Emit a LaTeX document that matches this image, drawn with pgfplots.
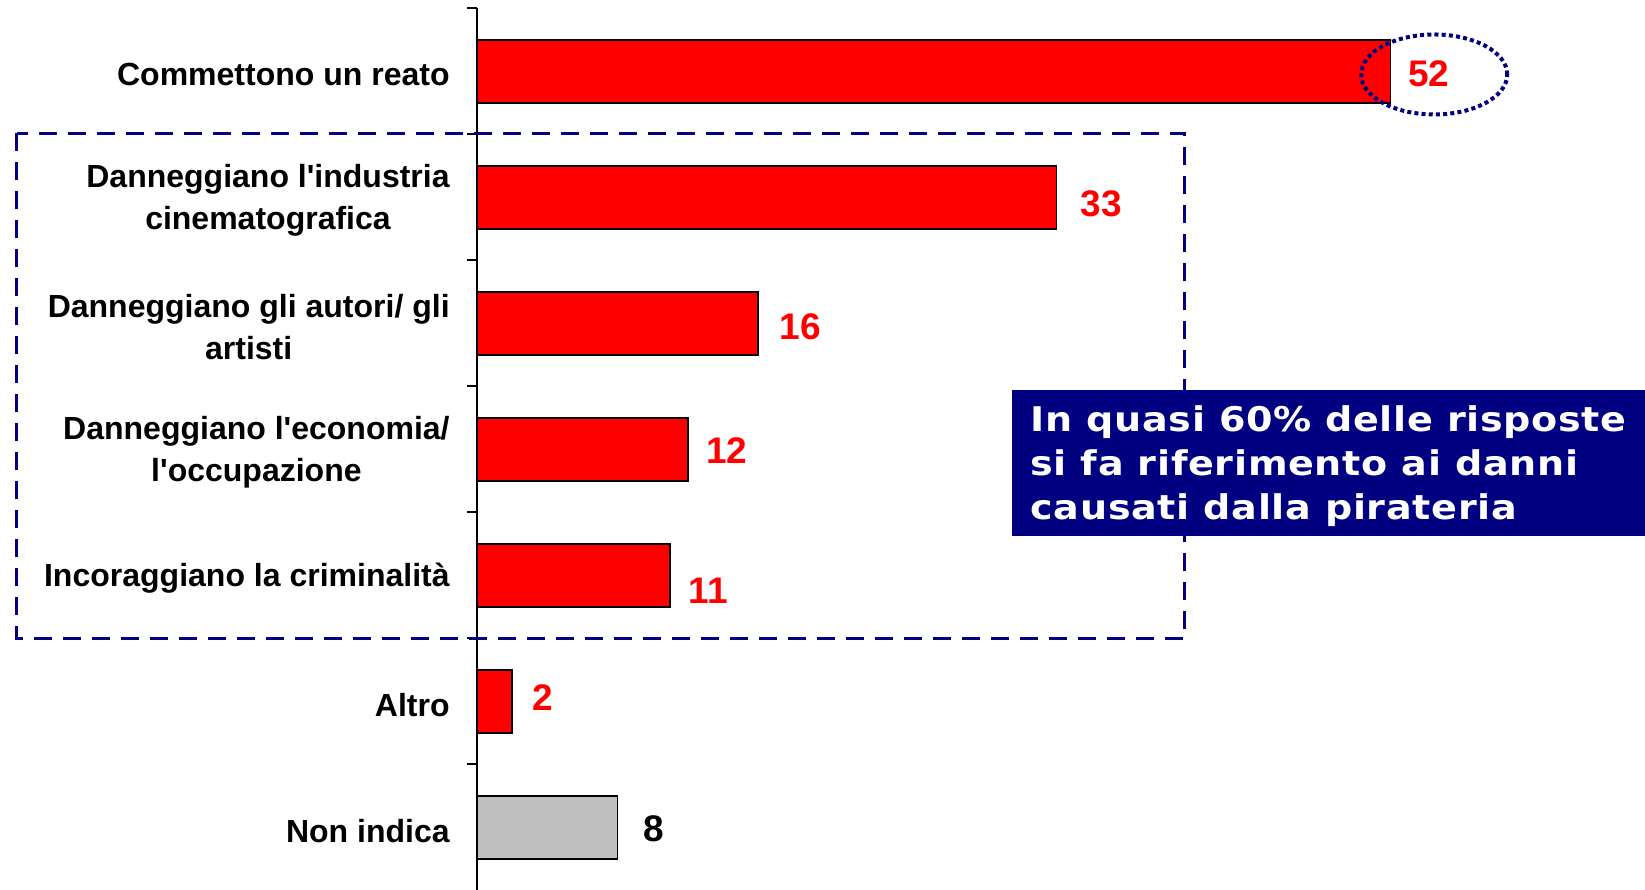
\documentclass[border=0pt]{standalone}
\usepackage{fontspec}
\setmainfont{Liberation Sans}[Ligatures=TeXOff]
\newfontfamily\boxfont{DejaVu Sans}[FakeStretch=1.12, LetterSpace=2]
\usepackage{pgfplots}
\pgfplotsset{compat=1.18}
\definecolor{barred}{RGB}{255,0,0}
\definecolor{bargray}{RGB}{192,192,192}
\definecolor{navy}{RGB}{0,0,128}

\begin{document}
\begin{tikzpicture}
\begin{axis}[
  scale only axis,
  width=579.5pt, height=441pt,
  xmin=0, xmax=66, ymin=-0.5, ymax=6.5,
  y dir=reverse,
  axis x line=none,
  axis y line=left,
  y axis line style={-, line width=1pt},
  xbar, bar width=31.5pt, bar shift=0pt,
  ytick={0,...,6},
  yticklabels={Commettono un reato,
    {Danneggiano l'industria\\cinematografica},
    {Danneggiano gli autori/ gli\\artisti},
    {Danneggiano l'economia/\\l'occupazione},
    Incoraggiano la criminalità, Altro, Non indica},
  yticklabel style={align=center, anchor=east, inner sep=0pt,
    xshift=-13.5pt, yshift=-1.6pt,
    font=\bfseries\fontsize{16}{21}\selectfont},
  major tick length=0pt,
  minor ytick={-0.5,0.5,...,5.5},
  minor tick length=5pt,
  tick align=outside,
  minor tick style={line width=1pt, black},
  clip=false,
]
\addplot[fill=barred, draw=black, line width=0.8pt] coordinates {
  (52,0) (33,1) (16,2) (12,3) (11,4) (2,5)};
\addplot[fill=bargray, draw=black, line width=0.8pt] coordinates {(8,6)};

% value labels
\begin{scope}[every node/.style={anchor=west, inner sep=0pt,
    font=\bfseries\fontsize{18.5}{20}\selectfont, text=barred}]
\node[xshift=8.8pt, yshift=-1.2pt] at (axis cs:52,0) {52};
\node[xshift=11.8pt, yshift=-3pt] at (axis cs:33,1) {33};
\node[xshift=10.5pt, yshift=-1.5pt] at (axis cs:16,2) {16};
\node[xshift=9.1pt, yshift=-0.8pt] at (axis cs:12,3) {12};
\node[xshift=9pt, yshift=-7.6pt] at (axis cs:11,4) {11};
\node[xshift=9.9pt, yshift=1.9pt] at (axis cs:2,5) {2};
\node[xshift=12.7pt, yshift=-0.7pt, text=black] at (axis cs:8,6) {8};
\end{scope}

% annotations
\draw[navy, line width=1.5pt, dash pattern=on 9pt off 5.5pt]
  (axis cs:-26.2,0.49) rectangle (axis cs:40.3,4.5);
\draw[navy, line width=2pt, dash pattern=on 2pt off 1.6pt]
  (axis cs:54.5,0.025) ellipse [x radius=36.5pt, y radius=20pt];
\fill[navy] (axis cs:30.47,2.529) rectangle (axis cs:66.5,3.688);
\node[anchor=west, inner sep=0pt, align=left, text=white, yshift=-1.5pt,
  font=\boxfont\bfseries\fontsize{17}{22}\selectfont]
  at (axis cs:31.5,3.11) {In quasi 60\% delle risposte\\si fa riferimento ai danni\\causati dalla pirateria};

\coordinate (bbA) at (axis cs:-27.16,-0.566);
\coordinate (bbB) at (axis cs:66.5,6.49);
\end{axis}
\pgfresetboundingbox
\path[use as bounding box] (bbA) rectangle (bbB);
\end{tikzpicture}
\end{document}
